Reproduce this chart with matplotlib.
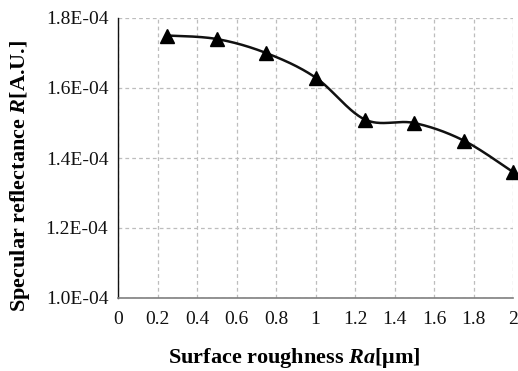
import numpy as np
import matplotlib
matplotlib.use("Agg")
import matplotlib.pyplot as plt

roughness = [0.25, 0.5, 0.75, 1.0, 1.25, 1.5, 1.75, 2.0]
reflectance = [1.75e-4, 1.74e-4, 1.70e-4, 1.63e-4, 1.51e-4, 1.50e-4, 1.45e-4, 1.36e-4]
x_ticks = [0, 0.2, 0.4, 0.6, 0.8, 1, 1.2, 1.4, 1.6, 1.8, 2]
x_tick_labels = ["0", "0.2", "0.4", "0.6", "0.8", "1", "1.2", "1.4", "1.6", "1.8", "2"]
y_ticks = [1.0e-4, 1.2e-4, 1.4e-4, 1.6e-4, 1.8e-4]
y_tick_labels = ["1.0E-04", "1.2E-04", "1.4E-04", "1.6E-04", "1.8E-04"]


def smooth_curve(xs, ys, n=40):
    """Bezier smoothing through every point (spreadsheet-style smoothed line)."""
    xs = np.asarray(xs, float)
    ys = np.asarray(ys, float)
    px = np.concatenate([[xs[0]], xs, [xs[-1]]])
    py = np.concatenate([[ys[0]], ys, [ys[-1]]])
    out_x, out_y = [], []
    t = np.linspace(0, 1, n)
    for i in range(1, len(px) - 2):
        p0 = np.array([px[i], py[i]])
        p3 = np.array([px[i + 1], py[i + 1]])
        c1 = p0 + (np.array([px[i + 1], py[i + 1]]) - np.array([px[i - 1], py[i - 1]])) / 6
        c2 = p3 - (np.array([px[i + 2], py[i + 2]]) - np.array([px[i], py[i]])) / 6
        b = ((1 - t) ** 3)[:, None] * p0 + (3 * (1 - t) ** 2 * t)[:, None] * c1 \
            + (3 * (1 - t) * t ** 2)[:, None] * c2 + (t ** 3)[:, None] * p3
        out_x.extend(b[:, 0])
        out_y.extend(b[:, 1])
    return out_x, out_y


plt.rcParams["font.family"] = ["Liberation Serif", "DejaVu Serif"]
plt.rcParams["mathtext.fontset"] = "custom"
plt.rcParams["mathtext.rm"] = "Liberation Serif:bold"
plt.rcParams["mathtext.it"] = "Liberation Serif:italic:bold"
plt.rcParams["mathtext.bf"] = "Liberation Serif:bold"

W, H = 518, 371
fig = plt.figure(figsize=(W / 100, H / 100), dpi=100)
ax = fig.add_axes([118 / W, 1 - 298 / H, (513 - 118) / W, (298 - 18) / H])

sx, sy = smooth_curve(roughness, reflectance)
ax.plot(sx, sy, color="#111111", lw=1.8, zorder=3, solid_capstyle="round")
ax.plot(roughness, reflectance, linestyle="none", marker="^", markersize=10,
        color="black", zorder=4, clip_on=False)

ax.set_xlim(0, 2)
ax.set_ylim(1.0e-4, 1.8e-4)
ax.set_xticks(x_ticks)
ax.set_xticklabels(x_tick_labels)
ax.set_yticks(y_ticks)
ax.set_yticklabels(y_tick_labels)
ax.tick_params(axis="both", length=0, labelsize=14, colors="#111111")
ax.tick_params(axis="x", pad=9)
ax.tick_params(axis="y", pad=7)

ax.grid(True, color="#bdbdbd", linestyle=(0, (3, 2.5)), linewidth=0.9)
ax.set_axisbelow(True)
for side in ("top", "right"):
    ax.spines[side].set_visible(False)
ax.spines["left"].set_color("#111111")
ax.spines["left"].set_linewidth(1.0)
ax.spines["bottom"].set_color("#7f7f7f")
ax.spines["bottom"].set_linewidth(1.2)

# Axis titles, centred on the chart area rather than the plot area
fig.text(294 / W, 1 - 358 / H, r"Surface roughness $\mathit{Ra}$[μm]", fontsize=16,
         fontweight="bold", ha="center", va="center")
fig.text(20 / W, 1 - 176 / H, r"Specular reflectance $\mathit{R}$[A.U.]", fontsize=16,
         fontweight="bold", ha="center", va="center", rotation=90)

fig.savefig("out.png", dpi=100)
